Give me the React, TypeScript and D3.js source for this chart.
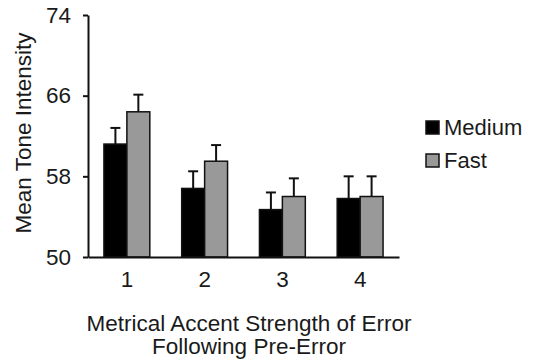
import React, { useEffect, useRef } from 'react';
import * as d3 from 'd3';

// chart data
const categories = ['1', '2', '3', '4'];
const seriesNames = ['Medium', 'Fast'];
const mediumValues = [61.2, 56.8, 54.7, 55.8];
const mediumErrors = [1.6, 1.7, 1.7, 2.2];
const fastValues = [64.4, 59.5, 56.0, 56.0];
const fastErrors = [1.7, 1.6, 1.8, 2.0];
const yTicks = [50, 58, 66, 74];

const App = () => {
  const ref = useRef<HTMLDivElement>(null);

  useEffect(() => {
    document.body.style.margin = '0';
    const width = 533;
    const height = 362;
    const font = 'Liberation Sans, Arial, sans-serif';
    const colors = ['#000000', '#999999'];

    d3.select(ref.current).select('svg').remove();
    const svg = d3
      .select(ref.current)
      .append('svg')
      .attr('width', width)
      .attr('height', height)
      .style('display', 'block')
      .style('background', '#fff');

    const left = 88;
    const right = 399;
    const top = 15;
    const bottom = 257;

    const x = d3.scaleBand().domain(categories).range([left, right]).paddingInner(0.41).paddingOuter(0.205);
    const xSub = d3.scaleBand().domain(seriesNames).range([0, x.bandwidth()]);
    const y = d3.scaleLinear().domain([50, 74]).range([bottom, top]);

    const series = [
      { name: 'Medium', values: mediumValues, errors: mediumErrors, color: colors[0] },
      { name: 'Fast', values: fastValues, errors: fastErrors, color: colors[1] },
    ];

    // bars + error bars (upper only)
    series.forEach((s) => {
      const g = svg.append('g');
      categories.forEach((c, i) => {
        const bx = (x(c) ?? 0) + (xSub(s.name) ?? 0);
        const bw = xSub.bandwidth();
        const cx = bx + bw / 2;
        const yTop = y(s.values[i]);
        const yErr = y(s.values[i] + s.errors[i]);
        g.append('line')
          .attr('x1', cx).attr('x2', cx)
          .attr('y1', yTop).attr('y2', yErr)
          .attr('stroke', '#111').attr('stroke-width', 2);
        g.append('line')
          .attr('x1', cx - 5).attr('x2', cx + 5)
          .attr('y1', yErr).attr('y2', yErr)
          .attr('stroke', '#111').attr('stroke-width', 2);
        g.append('rect')
          .attr('x', bx).attr('y', yTop)
          .attr('width', bw).attr('height', bottom - yTop)
          .attr('fill', s.color)
          .attr('stroke', '#111').attr('stroke-width', 1.5);
      });
    });

    // y axis
    const yAxis = svg
      .append('g')
      .attr('transform', `translate(${left},0)`)
      .call(d3.axisLeft(y).tickValues(yTicks).tickSize(5).tickSizeOuter(0).tickPadding(12));
    yAxis.select('.domain').attr('stroke', '#111').attr('stroke-width', 2);
    yAxis.selectAll('.tick line').attr('stroke', '#111').attr('stroke-width', 2);
    yAxis.selectAll('.tick text')
      .attr('font-family', font).attr('font-size', 22.5).attr('fill', '#1a1a1a');

    // x axis
    const xAxis = svg
      .append('g')
      .attr('transform', `translate(0,${bottom})`)
      .call(d3.axisBottom(x).tickSize(0).tickPadding(14));
    xAxis.select('.domain').attr('stroke', '#111').attr('stroke-width', 2);
    xAxis.selectAll('.tick text')
      .attr('font-family', font).attr('font-size', 22.5).attr('fill', '#1a1a1a');

    // axis titles
    svg.append('text')
      .attr('transform', 'translate(31,133) rotate(-90)')
      .attr('text-anchor', 'middle')
      .attr('font-family', font).attr('font-size', 22.5).attr('fill', '#1a1a1a')
      .text('Mean Tone Intensity');

    const xTitle = svg.append('text')
      .attr('text-anchor', 'middle')
      .attr('font-family', font).attr('font-size', 22.5).attr('fill', '#1a1a1a');
    xTitle.append('tspan').attr('x', 249).attr('y', 331).text('Metrical Accent Strength of Error');
    xTitle.append('tspan').attr('x', 249).attr('y', 354).text('Following Pre-Error');

    // legend
    const legend = svg.append('g').attr('transform', 'translate(426,121)');
    series.forEach((s, i) => {
      const row = legend.append('g').attr('transform', `translate(0,${i * 33})`);
      row.append('rect')
        .attr('width', 13).attr('height', 13)
        .attr('fill', s.color).attr('stroke', '#111').attr('stroke-width', 1.5);
      row.append('text')
        .attr('x', 18).attr('y', 14)
        .attr('font-family', font).attr('font-size', 22).attr('fill', '#1a1a1a')
        .text(s.name);
    });
  }, []);

  return <div ref={ref} />;
};

export default App;
